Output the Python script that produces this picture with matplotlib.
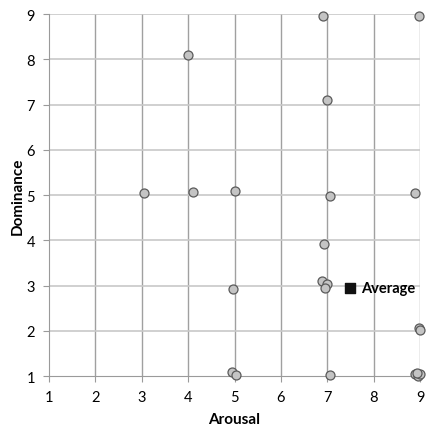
#Arousal vs dominance scatter with average point

import matplotlib
matplotlib.use("Agg")
import matplotlib.pyplot as plt

arousal = [6.9, 8.97, 4.0, 7.0, 3.05, 4.1, 5.0, 7.05, 8.9, 6.93, 6.88, 7.0, 6.95,
           4.97, 8.97, 9.0, 4.95, 5.03, 7.05, 8.9, 8.95, 9.0, 8.93]
dominance = [8.95, 8.95, 8.1, 7.1, 5.05, 5.07, 5.1, 4.98, 5.05, 3.92, 3.1, 3.03, 2.95,
             2.92, 2.06, 2.02, 1.09, 1.02, 1.02, 1.05, 1.0, 1.05, 1.08]
avg_arousal = [7.49]
avg_dominance = [2.94]
ticks = [1, 2, 3, 4, 5, 6, 7, 8, 9]

plt.rcParams["font.family"] = ["Lato", "DejaVu Sans"]

fig = plt.figure(figsize=(4.26, 4.31), dpi=100)
ax = fig.add_axes([0.115, 0.125, 0.871, 0.84])

ax.scatter(arousal, dominance, s=42, c="#c4c4c4", edgecolors="#5a5a5a",
           linewidths=0.9, zorder=3, clip_on=False)
ax.scatter(avg_arousal, avg_dominance, s=45, marker="s", c="#111111",
           zorder=4, clip_on=False)
ax.annotate("Average", (avg_arousal[0], avg_dominance[0]), xytext=(8, 0),
            textcoords="offset points", va="center", ha="left",
            fontsize=10.5, fontweight="bold")

ax.set_xlim(1, 9)
ax.set_ylim(1, 9)
ax.set_xticks(ticks)
ax.set_yticks(ticks)
ax.tick_params(labelsize=10.5, length=4, color="#9a9a9a", pad=6)

for x in ticks[1:]:
    ax.axvline(x, color="#a0a0a0", lw=1, zorder=1)
for y in ticks[1:]:
    ax.axhline(y, color="#c8c8c8", lw=1.2, zorder=1)

for side in ["top", "right"]:
    ax.spines[side].set_visible(False)
for side in ["left", "bottom"]:
    ax.spines[side].set_color("#9a9a9a")

ax.set_xlabel("Arousal", fontsize=11, fontweight="bold", labelpad=6)
ax.set_ylabel("Dominance", fontsize=11, fontweight="bold", labelpad=1)

plt.savefig("out.png", dpi=100)
plt.close()
